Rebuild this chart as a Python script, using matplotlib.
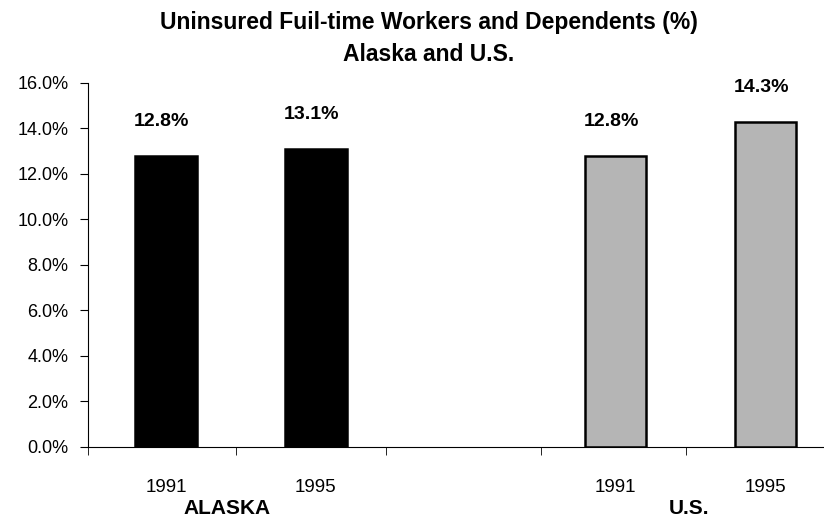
import matplotlib
matplotlib.use("Agg")
import matplotlib.pyplot as plt
from matplotlib.ticker import FixedLocator

# Daten
jahre = ["1991", "1995", "", "1991", "1995"]
werte = [12.8, 13.1, 0.0, 12.8, 14.3]
farben = ["black", "black", "white", "#b5b5b5", "#b5b5b5"]
wert_labels = ["12.8%", "13.1%", "", "12.8%", "14.3%"]
gruppen = ["ALASKA", "U.S."]
gruppen_pos = [0.41, 3.49]
y_ticks = [0, 2, 4, 6, 8, 10, 12, 14, 16]

plt.rcParams['font.family'] = ['Liberation Sans', 'DejaVu Sans']

fig = plt.figure(figsize=(8.24, 5.22), dpi=100)
ax = fig.add_axes([0.1068, 0.1437, 0.8932, 0.6973])

pos = list(range(len(werte)))
for i in pos:
    if werte[i] > 0:
        ax.bar(i, werte[i], width=0.41, color=farben[i], edgecolor="black", linewidth=1.8)
        ax.text(i - 0.03, werte[i] + 1.5, wert_labels[i], ha="center", va="center",
                fontsize=14, fontweight="bold")

ax.set_xlim(-0.52, 4.39)
ax.set_ylim(0, 16)
ax.set_yticks(y_ticks)
ax.set_yticklabels([f"{t:.1f}%" for t in y_ticks], fontsize=13)
ax.set_xticks(pos)
ax.set_xticklabels(jahre, fontsize=13.5)
ax.tick_params(axis="x", length=0, pad=23)
ax.xaxis.set_minor_locator(FixedLocator([-0.52, 0.47, 1.47, 2.5, 3.47]))
ax.tick_params(axis="x", which="minor", length=6, direction="out")
ax.tick_params(axis="y", length=6, direction="out", pad=8)

for s in ["top", "right"]:
    ax.spines[s].set_visible(False)

for g, x in zip(gruppen, gruppen_pos):
    ax.text(x, -2.7, g, ha="center", va="center", fontsize=15, fontweight="bold")

fig.text(0.52, 0.956, "Uninsured Fuil-time Workers and Dependents (%)", ha="center",
         va="center", fontsize=16.5, fontweight="bold")
fig.text(0.52, 0.895, "Alaska and U.S.", ha="center", va="center", fontsize=16.5,
         fontweight="bold")

fig.savefig("out.png", dpi=100)
